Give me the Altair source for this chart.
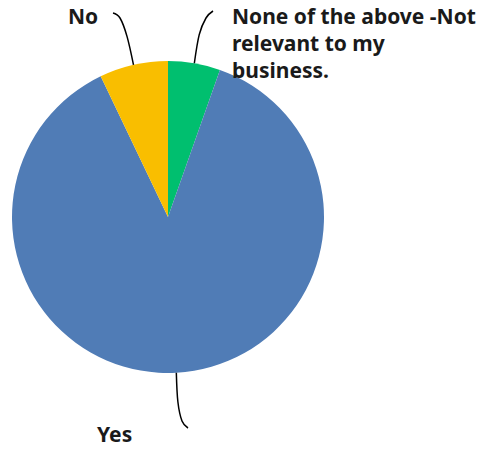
import math
import altair as alt
import pandas as pd

# ---- data ----
categories = ["None of the above -Not relevant to my business.", "Yes", "No"]
percent = [5.4, 87.5, 7.1]
colors = ["#00BF6F", "#507CB6", "#F9BE00"]
label_lines = [["None of the above -Not", "relevant to my", "business."], ["Yes"], ["No"]]

# layout (pixels)
W, H = 482, 449
CX, CY, R = 168, 217, 156
label_pos = [(232, 7), (97, 425), (68, 7)]
leader_tails = [[(206, 18), (213, 11)], [(182, 421), (188, 428)], [(120, 18), (113, 13)]]

pie_df = pd.DataFrame({"cat": categories, "pct": percent, "idx": list(range(len(categories)))})

# leader lines derived from slice mid-angles
rows = []
total = sum(percent)
cum = 0.0
for i, p in enumerate(percent):
    mid = (cum + p / 2) / total * 2 * math.pi
    cum += p
    sx, sy = CX + R * math.sin(mid), CY - R * math.cos(mid)
    ex, ey = CX + (R + 29) * math.sin(mid), CY - (R + 29) * math.cos(mid)
    pts = [(sx, sy), (ex, ey)] + leader_tails[i]
    for k, (px, py) in enumerate(pts):
        rows.append({"cat": categories[i], "k": k, "px": px, "py": py})
lead_df = pd.DataFrame(rows)

lab_df = pd.DataFrame({
    "text": label_lines,
    "px": [p[0] for p in label_pos],
    "py": [p[1] for p in label_pos],
})

xs = alt.Scale(domain=[0, W], range=[0, W])
ys = alt.Scale(domain=[0, H], range=[0, H])

pie = alt.Chart(pie_df).mark_arc(outerRadius=R).encode(
    theta=alt.Theta("pct:Q", stack=True),
    order=alt.Order("idx:Q"),
    color=alt.Color("cat:N", scale=alt.Scale(domain=categories, range=colors), legend=None),
    x=alt.value(CX),
    y=alt.value(CY),
)

leaders = alt.Chart(lead_df).mark_line(color="black", strokeWidth=1.5, interpolate="cardinal").encode(
    x=alt.X("px:Q", scale=xs, axis=None),
    y=alt.Y("py:Q", scale=ys, axis=None),
    detail="cat:N",
    order="k:Q",
)

labels = alt.Chart(lab_df).mark_text(
    align="left", baseline="top", font="Noto Sans", fontSize=21, fontWeight="bold",
    lineHeight=27, color="#1a1a1a",
).encode(
    x=alt.X("px:Q", scale=xs, axis=None),
    y=alt.Y("py:Q", scale=ys, axis=None),
    text="text",
)

chart = alt.layer(pie, leaders, labels).properties(
    width=W, height=H, padding=0, autosize=alt.AutoSizeParams(type="none"),
).configure_view(stroke=None)

chart.save("out.html", embed_options={"renderer": "svg", "actions": False})
